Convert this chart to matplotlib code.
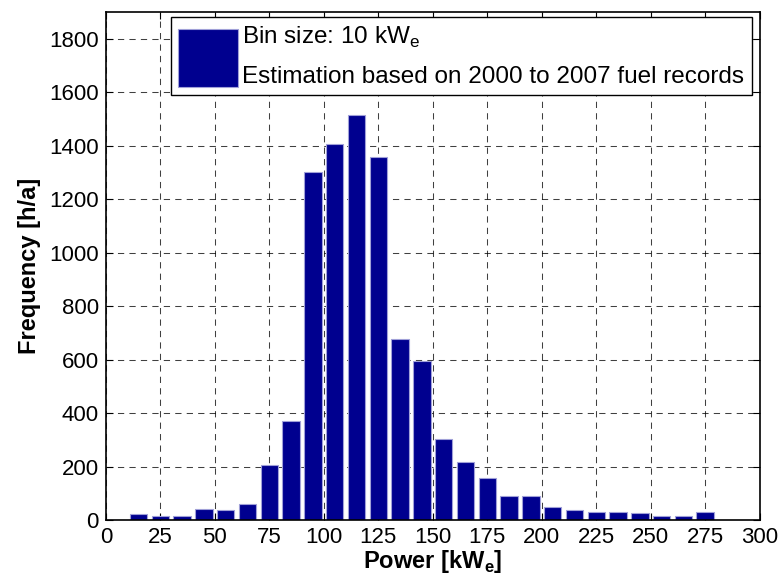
import matplotlib.pyplot as plt
import numpy as np

# bin centres [kW_e] and hours per year
power = [5, 15, 25, 35, 45, 55, 65, 75, 85, 95, 105, 115, 125, 135, 145,
         155, 165, 175, 185, 195, 205, 215, 225, 235, 245, 255, 265, 275]
hours = [0, 21, 15, 15, 43, 37, 59, 205, 371, 1301, 1406, 1517, 1357, 677, 595,
         305, 216, 159, 91, 91, 48, 36, 31, 31, 26, 15, 15, 31]

xticks = np.arange(0, 301, 25)
yticks = np.arange(0, 1801, 200)

plt.rcParams['font.family'] = ['Liberation Sans', 'DejaVu Sans']
plt.rcParams['mathtext.fontset'] = 'custom'
plt.rcParams['mathtext.rm'] = 'Liberation Sans'
plt.rcParams['mathtext.bf'] = 'Liberation Sans:bold'

fig = plt.figure(figsize=(7.84, 5.82), dpi=100)
ax = fig.add_axes([0.135, 0.1065, 0.834, 0.8725])

bars = ax.bar(power, hours, width=8, color='#00008F', edgecolor='#a0a0d8',
              linewidth=0.8, zorder=3)

ax.set_xlim(0, 300)
ax.set_ylim(0, 1900)
ax.set_xticks(xticks)
ax.set_yticks(yticks)
ax.tick_params(direction='in', top=True, right=True, length=5, width=0.8,
               labelsize=16, pad=5)
ax.grid(True, color='black', linestyle=(0, (6, 5)), linewidth=0.75, alpha=0.75, zorder=0)
ax.set_axisbelow(True)
for s in ax.spines.values():
    s.set_linewidth(1.2)
    s.set_zorder(4)

ax.set_xlabel(r'Power [kW$_\mathbf{e}$]', fontsize=17, fontweight='bold', labelpad=0)
ax.set_ylabel('Frequency [h/a]', fontsize=17, fontweight='bold', labelpad=6)

leg = ax.legend([bars], ['Bin size: 10 kW$_\\mathrm{e}$\nEstimation based on 2000 to 2007 fuel records'],
                loc='upper right', bbox_to_anchor=(1 - 8 / 654, 1 - 5 / 508),
                borderaxespad=0, fontsize=17.5,
                handlelength=2.45, handleheight=3.3, handletextpad=0.2,
                borderpad=0.3, fancybox=False, framealpha=1, edgecolor='black')
leg.get_frame().set_linewidth(1.0)
leg.get_texts()[0].set_linespacing(1.95)

fig.savefig('out.png', dpi=100)
